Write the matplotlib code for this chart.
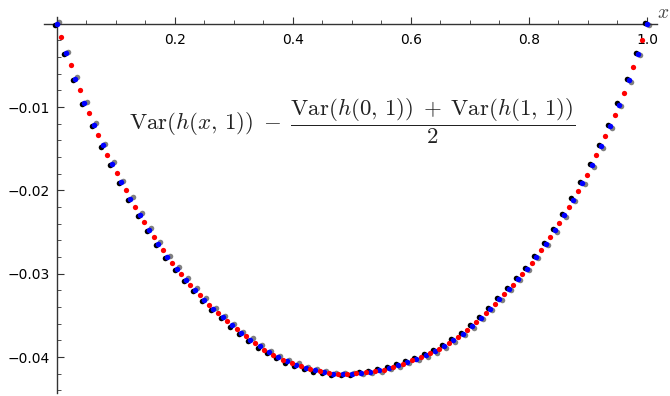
import numpy as np
import matplotlib.pyplot as plt
from matplotlib.transforms import offset_copy

plt.rcParams['mathtext.fontset'] = 'cm'

# red series, sampled at (k+0.5)/64
red_k = np.arange(64)
red_y = [-0.0016, -0.0050, -0.0080, -0.0107, -0.0133, -0.0157, -0.0179, -0.0200,
         -0.0220, -0.0238, -0.0256, -0.0272, -0.0287, -0.0300, -0.0313, -0.0325,
         -0.0337, -0.0347, -0.0357, -0.0366, -0.0375, -0.0383, -0.0391, -0.0397,
         -0.0403, -0.0407, -0.0411, -0.0414, -0.0417, -0.0419, -0.0420, -0.0420,
         -0.0419, -0.0418, -0.0417, -0.0415, -0.0412, -0.0408, -0.0404, -0.0400,
         -0.0395, -0.0390, -0.0383, -0.0376, -0.0368, -0.0358, -0.0347, -0.0336,
         -0.0324, -0.0313, -0.0300, -0.0287, -0.0272, -0.0256, -0.0239, -0.0220,
         -0.0201, -0.0181, -0.0158, -0.0135, -0.0110, -0.0083, -0.0052, -0.0019]
red_x = (red_k + 0.5) / 64

# blue / black / grey series, sampled at k/64
dot_k = np.arange(65)
dot_y = [0.0, -0.0035, -0.0066, -0.0095, -0.0121, -0.0146, -0.0168, -0.0190,
         -0.0210, -0.0229, -0.0247, -0.0264, -0.0280, -0.0294, -0.0307, -0.0319,
         -0.0331, -0.0342, -0.0352, -0.0362, -0.0371, -0.0379, -0.0387, -0.0394,
         -0.0400, -0.0405, -0.0409, -0.0413, -0.0416, -0.0418, -0.0420, -0.0420,
         -0.0420, -0.0419, -0.0418, -0.0416, -0.0413, -0.0410, -0.0406, -0.0402,
         -0.0398, -0.0393, -0.0387, -0.0380, -0.0372, -0.0363, -0.0353, -0.0342,
         -0.0330, -0.0318, -0.0306, -0.0294, -0.0280, -0.0264, -0.0248, -0.0230,
         -0.0211, -0.0191, -0.0170, -0.0147, -0.0123, -0.0097, -0.0068, -0.0036, 0.0]
dot_x = dot_k / 64
dot_y = np.array(dot_y)

x_major = [0.2, 0.4, 0.6, 0.8, 1.0]
x_labels = ['0.2', '0.4', '0.6', '0.8', '1.0']
y_major = [-0.01, -0.02, -0.03, -0.04]
y_labels = ['\u22120.01', '\u22120.02', '\u22120.03', '\u22120.04']

fig = plt.figure(figsize=(6.7, 3.96), dpi=100)
ax = fig.add_axes([44 / 670, 3 / 396, 613 / 670, 376.3 / 396])
ax.set_xlim(-0.0215, 1.017)
ax.set_ylim(-0.0443, 0.00084)

left = dot_x <= 0.5
right = ~left
# shadow-like offsets of the black and grey copies (in pixels)
for mask, sgn in [(left, 1), (right, -1)]:
    tr_grey = offset_copy(ax.transData, fig=fig, x=2.2, y=1.3 * sgn, units='dots')
    tr_black = offset_copy(ax.transData, fig=fig, x=-2.0, y=-1.2 * sgn, units='dots')
    ax.plot(dot_x[mask], dot_y[mask], 'o', color='#808080', ms=4.0, mew=0,
            transform=tr_grey, clip_on=False, zorder=2)
    ax.plot(dot_x[mask], dot_y[mask], 'o', color='black', ms=4.0, mew=0,
            transform=tr_black, clip_on=False, zorder=3)
ax.plot(dot_x, dot_y, 'o', color='blue', ms=4.0, mew=0, clip_on=False, zorder=4)
ax.plot(red_x, red_y, 'o', color='red', ms=3.8, mew=0, clip_on=False, zorder=5)

# Mathematica-like axes crossing at the origin
ax.spines['top'].set_visible(False)
ax.spines['right'].set_visible(False)
ax.spines['left'].set_position(('data', 0))
ax.spines['bottom'].set_position(('data', 0))
for s in ['left', 'bottom']:
    ax.spines[s].set_linewidth(1.0)
    ax.spines[s].set_color('#333333')

ax.set_xticks(x_major)
ax.set_xticklabels(x_labels)
ax.set_xticks([m for m in np.arange(0.05, 1.0, 0.05) if abs(m * 5 - round(m * 5)) > 1e-6], minor=True)
ax.set_yticks(y_major)
ax.set_yticklabels(y_labels)
ax.set_yticks([m for m in np.arange(-0.044, 0.0001, 0.002) if abs(m * 100 - round(m * 100)) > 1e-6], minor=True)

ax.tick_params(axis='x', which='major', direction='in', length=5, width=0.8, pad=7, labelsize=10, color='#333333')
ax.tick_params(axis='x', which='minor', direction='in', length=3, width=0.6, color='#333333')
ax.tick_params(axis='y', which='major', direction='in', length=5, width=0.8, pad=5, labelsize=10, color='#333333')
ax.tick_params(axis='y', which='minor', direction='in', length=3, width=0.6, color='#333333')

fig.text(663 / 670, 1 - 12 / 396, r'$x$', fontsize=14, color='#444444', ha='center', va='center')

fig.text(0.526, 1 - 121 / 396,
         r'$\mathrm{Var}(h(x,\,1))\;-\;\dfrac{\mathrm{Var}(h(0,\,1))\;+\;\mathrm{Var}(h(1,\,1))}{2}$',
         fontsize=16.5, color='#222222', ha='center', va='center')

fig.savefig('out.png', dpi=100)
